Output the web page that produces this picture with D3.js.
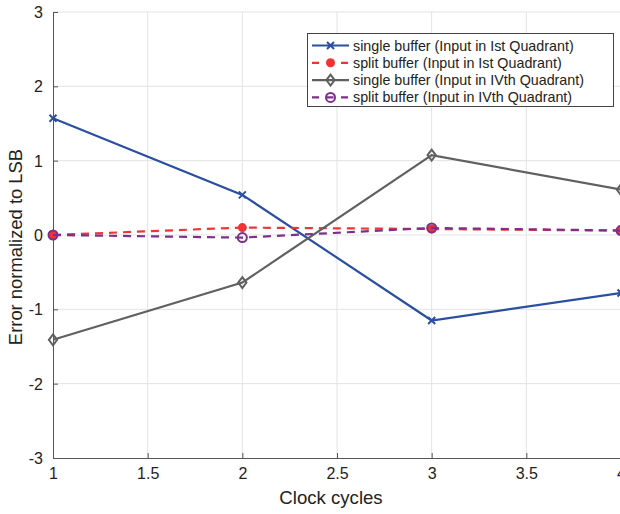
<!DOCTYPE html>
<html><head><meta charset="utf-8">
<script src="https://cdn.jsdelivr.net/npm/d3@7"></script>
<style>body{margin:0;background:#fff;} text{font-family:"Liberation Sans",Arial,Helvetica,sans-serif;}</style>
</head><body><svg id="c" width="620" height="514"></svg>
<script>
const xValues = [1, 2, 3, 4];
const singleIst = [1.57, 0.54, -1.15, -0.78];
const splitIst = [0.0, 0.10, 0.08, 0.06];
const singleIVth = [-1.41, -0.64, 1.075, 0.61];
const splitIVth = [0.0, -0.035, 0.095, 0.06];
const xTicks = [1, 1.5, 2, 2.5, 3, 3.5, 4];
const yTicks = [-3, -2, -1, 0, 1, 2, 3];
const seriesNames = ["single buffer (Input in Ist Quadrant)", "split buffer (Input in Ist Quadrant)", "single buffer (Input in IVth Quadrant)", "split buffer (Input in IVth Quadrant)"];

const series = [
  {name: seriesNames[0], vals: singleIst, color: "#2a4fa0", dash: null, marker: "x"},
  {name: seriesNames[1], vals: splitIst, color: "#f03434", dash: "8,6", marker: "dot"},
  {name: seriesNames[2], vals: singleIVth, color: "#606060", dash: null, marker: "diamond"},
  {name: seriesNames[3], vals: splitIVth, color: "#7e2f8e", dash: "8,6", marker: "ocircle"}
];

const svg = d3.select("#c");
const x = d3.scaleLinear().domain([1, 4]).range([53, 621]);
const y = d3.scaleLinear().domain([-3, 3]).range([458, 12]);

// grid
svg.append("g").selectAll("line").data(xTicks.slice(1)).join("line")
  .attr("x1", d => x(d)).attr("x2", d => x(d)).attr("y1", y(-3)).attr("y2", y(3))
  .attr("stroke", "#e3e3e3").attr("stroke-width", 1);
svg.append("g").selectAll("line").data(yTicks.slice(1)).join("line")
  .attr("x1", x(1)).attr("x2", x(4)).attr("y1", d => y(d)).attr("y2", d => y(d))
  .attr("stroke", "#e3e3e3").attr("stroke-width", 1);

// axes
const fmt = d => String(d);
const xAxis = d3.axisBottom(x).tickValues(xTicks).tickSize(-5).tickPadding(10).tickFormat(fmt);
const gx = svg.append("g").attr("transform", `translate(0,${y(-3)})`).call(xAxis);
const yAxis = d3.axisLeft(y).tickValues(yTicks).tickSize(-5).tickPadding(10).tickFormat(fmt);
const gy = svg.append("g").attr("transform", `translate(${x(1)},0)`).call(yAxis);
[gx, gy].forEach(g => {
  g.select(".domain").attr("stroke", "#555").attr("stroke-width", 1);
  g.selectAll(".tick line").attr("stroke", "#555");
  g.selectAll(".tick text").attr("fill", "#222").attr("font-size", 16)
   .style("font-family", '"Liberation Sans",Arial,sans-serif');
});
gy.selectAll(".tick text").attr("dy", "0.35em");

svg.append("text").attr("x", 331).attr("y", 504).attr("text-anchor", "middle")
  .attr("font-size", 18.6).attr("fill", "#222").text("Clock cycles");
svg.append("text").attr("transform", `translate(22,${247}) rotate(-90)`).attr("text-anchor", "middle")
  .attr("font-size", 18.4).attr("fill", "#222").text("Error normalized to LSB");

function drawMarker(g, type, cx, cy, color) {
  if (type === "x") {
    const s = 3.5;
    g.append("path").attr("d", `M${cx-s},${cy-s}L${cx+s},${cy+s}M${cx-s},${cy+s}L${cx+s},${cy-s}`)
      .attr("stroke", color).attr("stroke-width", 2).attr("fill", "none");
  } else if (type === "dot") {
    g.append("circle").attr("cx", cx).attr("cy", cy).attr("r", 4.5).attr("fill", color);
  } else if (type === "diamond") {
    const s = 5.5;
    g.append("path").attr("d", `M${cx},${cy-s}L${cx+s*0.75},${cy}L${cx},${cy+s}L${cx-s*0.75},${cy}Z`)
      .attr("stroke", color).attr("stroke-width", 2).attr("fill", "none");
  } else if (type === "ocircle") {
    g.append("circle").attr("cx", cx).attr("cy", cy).attr("r", 4.5)
      .attr("stroke", color).attr("stroke-width", 2).attr("fill", "none");
  }
}

const line = d3.line().x((d, i) => x(xValues[i])).y(d => y(d));
const plot = svg.append("g");
series.forEach(s => {
  const g = plot.append("g");
  g.append("path").datum(s.vals).attr("d", line).attr("fill", "none")
    .attr("stroke", s.color).attr("stroke-width", 2.2)
    .attr("stroke-dasharray", s.dash);
  s.vals.forEach((v, i) => drawMarker(g, s.marker, x(xValues[i]), y(v), s.color));
});

// legend
const lg = svg.append("g");
lg.append("rect").attr("x", 307.5).attr("y", 33.5).attr("width", 306).attr("height", 73)
  .attr("fill", "#fff").attr("stroke", "#444").attr("stroke-width", 1);
series.forEach((s, i) => {
  const ly = 45.5 + i * 17.3;
  lg.append("line").attr("x1", 312).attr("x2", 349).attr("y1", ly).attr("y2", ly)
    .attr("stroke", s.color).attr("stroke-width", 2.2).attr("stroke-dasharray", s.dash ? "7,7.5" : null);
  drawMarker(lg, s.marker, 330.5, ly, s.color);
  lg.append("text").attr("x", 353).attr("y", ly).attr("dy", "0.35em")
    .attr("font-size", 14.3).attr("fill", "#222").text(s.name);
});
</script></body></html>
